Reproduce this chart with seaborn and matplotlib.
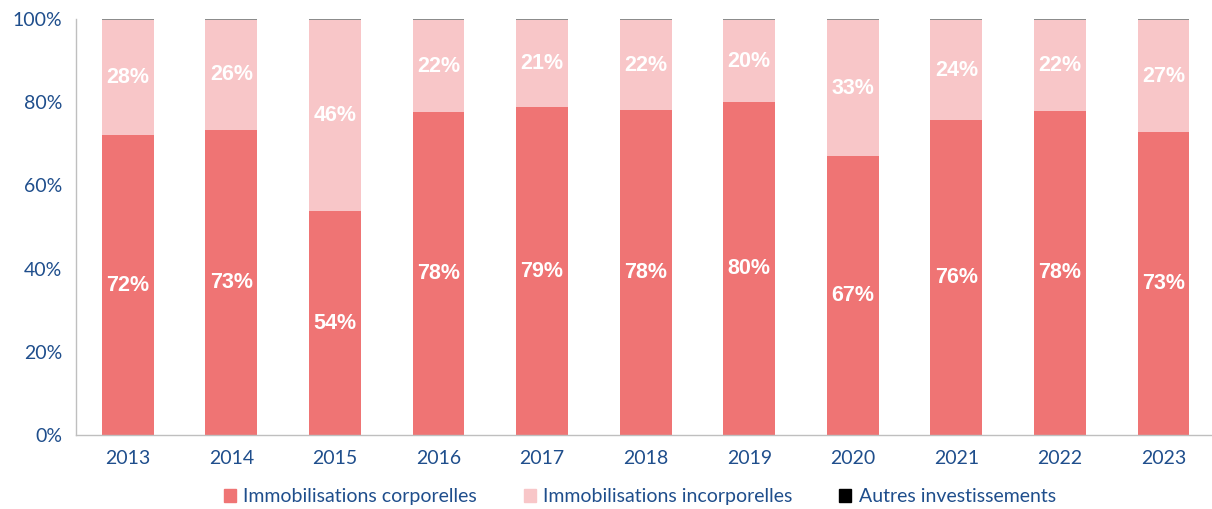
import numpy as np
import pandas as pd
import matplotlib
matplotlib.use("Agg")
import matplotlib.pyplot as plt
from matplotlib.patches import Patch
from matplotlib.ticker import FixedLocator
import seaborn as sns

years = ["2013", "2014", "2015", "2016", "2017", "2018", "2019", "2020", "2021", "2022", "2023"]
corporelles = [72.1, 73.4, 53.8, 77.6, 78.8, 78.1, 80.1, 67.1, 75.6, 77.9, 72.8]
incorporelles = [27.6, 26.3, 45.9, 22.1, 20.9, 21.6, 19.6, 32.6, 24.1, 21.8, 26.9]
autres = [0.3, 0.3, 0.3, 0.3, 0.3, 0.3, 0.3, 0.3, 0.3, 0.3, 0.3]

col_corp = "#EF7474"
col_incorp = "#F8C6C8"
col_autres = "#8C8C8C"
blue = "#1F4E8C"

df = pd.DataFrame({"annee": years, "corp": corporelles, "incorp": incorporelles, "autres": autres})
# cumulative heights, drawn tallest first so they stack
df["top_incorp"] = df["corp"] + df["incorp"]
df["top_autres"] = df["top_incorp"] + df["autres"]

sns.set_style("white")
plt.rcParams["font.family"] = ["Lato", "DejaVu Sans"]

fig = plt.figure(figsize=(12.12, 5.09), dpi=100)
ax = fig.add_axes([0.0627, 0.1454, 0.94, 0.8173])

sns.barplot(data=df, x="annee", y="top_autres", color=col_autres, width=0.5,
            linewidth=0, saturation=1, ax=ax)
sns.barplot(data=df, x="annee", y="top_incorp", color=col_incorp, width=0.5,
            linewidth=0, saturation=1, ax=ax)
sns.barplot(data=df, x="annee", y="corp", color=col_corp, width=0.5,
            linewidth=0, saturation=1, ax=ax)

# labels in the middle of each segment
for i, row in df.iterrows():
    ax.text(i, row["corp"] / 2, f"{row['corp']:.0f}%", ha="center", va="center",
            color="white", fontsize=15.5, fontweight="bold", family="Liberation Sans")
    ax.text(i, row["corp"] + row["incorp"] / 2, f"{row['incorp']:.0f}%", ha="center", va="center",
            color="white", fontsize=15.5, fontweight="bold", family="Liberation Sans")

ax.set_xlim(-0.5, len(years) - 0.5)
ax.set_ylim(0, 100)
ax.set_yticks(np.arange(0, 101, 20))
ax.set_yticklabels([f"{v}%" for v in range(0, 101, 20)])
ax.set_xlabel("")
ax.set_ylabel("")

for s in ["top", "right"]:
    ax.spines[s].set_visible(False)
for s in ["left", "bottom"]:
    ax.spines[s].set_color("#BFBFBF")
    ax.spines[s].set_linewidth(1)

ax.tick_params(axis="y", length=7, color="#BFBFBF", labelsize=14, labelcolor=blue, pad=3)
ax.tick_params(axis="x", which="major", length=0, labelsize=14, labelcolor=blue, pad=11)
ax.xaxis.set_minor_locator(FixedLocator(np.arange(-0.5, len(years), 1)))
ax.tick_params(axis="x", which="minor", length=6, color="#BFBFBF", width=1)

handles = [Patch(color=col_corp), Patch(color=col_incorp), Patch(color="black")]
labels = ["Immobilisations corporelles", "Immobilisations incorporelles", "Autres investissements"]
leg = fig.legend(handles, labels, loc="center", bbox_to_anchor=(0.528, 0.024), ncol=3,
                 frameon=False, fontsize=14, handlelength=0.6, handleheight=0.6,
                 handletextpad=0.4, columnspacing=2.4)
for t in leg.get_texts():
    t.set_color(blue)

fig.savefig("out.png", dpi=100)
